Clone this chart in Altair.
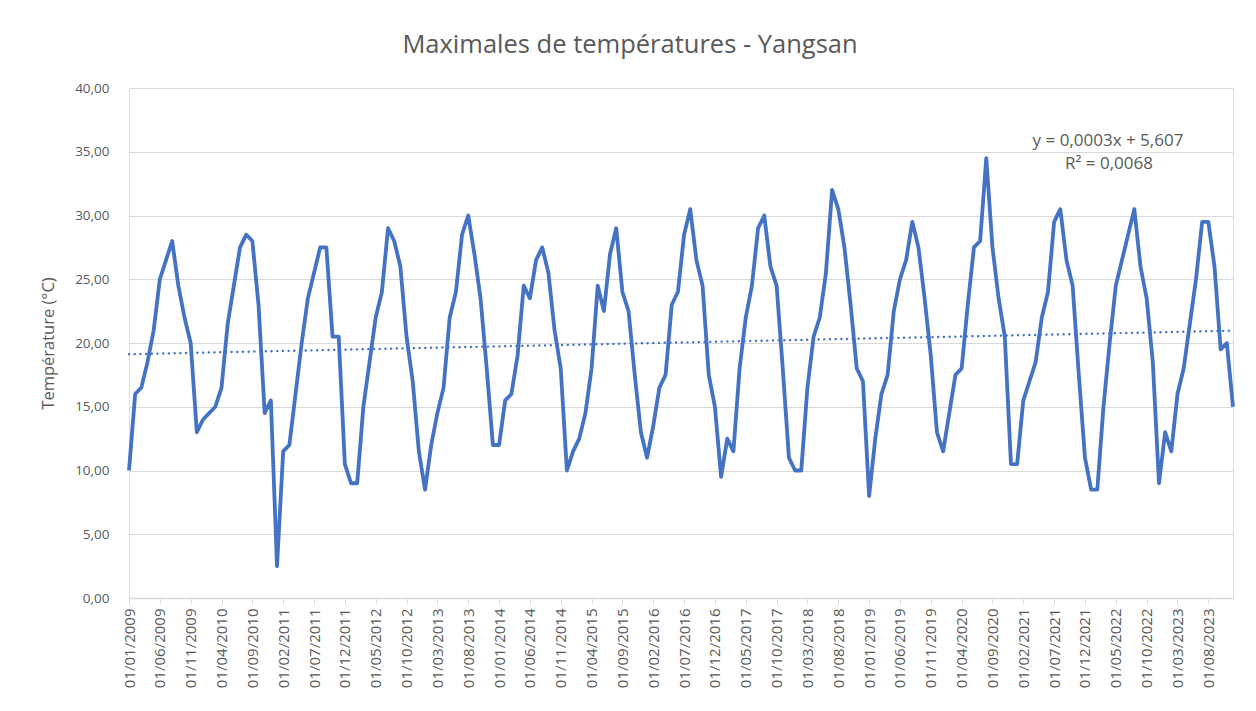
import altair as alt
import pandas as pd

# ---- data (monthly maxima, Jan 2009 .. Dec 2023) ----
months = pd.date_range("2009-01-01", periods=180, freq="MS")
labels = [d.strftime("01/%m/%Y") for d in months]
values = [
    10, 16, 16.5, 18.5, 21, 25, 26.5, 28, 24.5, 22, 20, 13,
    14, 14.5, 15, 16.5, 21.5, 24.5, 27.5, 28.5, 28, 23, 14.5, 15.5,
    2.5, 11.5, 12, 16, 20, 23.5, 25.5, 27.5, 27.5, 20.5, 20.5, 10.5,
    9, 9, 15, 18.5, 22, 24, 29, 28, 26, 20.5, 17, 11.5,
    8.5, 12, 14.5, 16.5, 22, 24, 28.5, 30, 27, 23.5, 18, 12,
    12, 15.5, 16, 19, 24.5, 23.5, 26.5, 27.5, 25.5, 21, 18, 10,
    11.5, 12.5, 14.5, 18, 24.5, 22.5, 27, 29, 24, 22.5, 17.5, 13,
    11, 13.5, 16.5, 17.5, 23, 24, 28.5, 30.5, 26.5, 24.5, 17.5, 15,
    9.5, 12.5, 11.5, 18, 22, 24.5, 29, 30, 26, 24.5, 18, 11,
    10, 10, 16.5, 20.5, 22, 25.5, 32, 30.5, 27.5, 23, 18, 17,
    8, 12.5, 16, 17.5, 22.5, 25, 26.5, 29.5, 27.5, 23.5, 19, 13,
    11.5, 14.5, 17.5, 18, 23, 27.5, 28, 34.5, 27.5, 23.5, 20.5, 10.5,
    10.5, 15.5, 17, 18.5, 22, 24, 29.5, 30.5, 26.5, 24.5, 17.5, 11,
    8.5, 8.5, 15, 20, 24.5, 26.5, 28.5, 30.5, 26, 23.5, 18.5, 9,
    13, 11.5, 16, 18, 21.5, 25, 29.5, 29.5, 26, 19.5, 20, 15,
]
idx = list(range(len(values)))
y_ticks = [0, 5, 10, 15, 20, 25, 30, 35, 40]
x_ticks = list(range(0, len(values), 5))
title_text = "Maximales de températures - Yangsan"
y_title = "Température (°C)"
eq_lines = ["y = 0,0003x + 5,607", "R² = 0,0068"]

df = pd.DataFrame({"idx": idx, "label": labels, "value": values})

FONT = "Open Sans"
GRAY = "#595959"
GRID = "#d9d9d9"
BLUE = "#4472C4"

label_array = "[" + ",".join("'" + l + "'" for l in labels) + "]"

x_enc = alt.X(
    "idx:Q",
    scale=alt.Scale(domain=[0, len(values) - 1], nice=False, zero=False),
    axis=alt.Axis(
        values=x_ticks,
        labelExpr=label_array + "[datum.value]",
        labelAngle=-90,
        labelAlign="right",
        labelBaseline="middle",
        labelFont=FONT,
        labelFontSize=15,
        labelColor=GRAY,
        labelPadding=4,
        labelOverlap=False,
        labelBound=False,
        labelFlush=False,
        grid=False,
        domainColor=GRID,
        domainWidth=1.5,
        tickColor=GRID,
        tickSize=6,
        title=None,
    ),
)
y_enc = alt.Y(
    "value:Q",
    scale=alt.Scale(domain=[0, 40], nice=False, zero=True),
    axis=alt.Axis(
        values=y_ticks,
        labelExpr="replace(format(datum.value, '.2f'), '.', ',')",
        labelFont=FONT,
        labelFontSize=13.5,
        labelColor=GRAY,
        labelPadding=20,
        grid=True,
        gridColor=GRID,
        gridWidth=1.2,
        domain=False,
        ticks=False,
        title=y_title,
        titleFont=FONT,
        titleFontSize=16.5,
        titleFontWeight="normal",
        titleColor=GRAY,
        titlePadding=18,
    ),
)

base = alt.Chart(df)

line = base.mark_line(color=BLUE, strokeWidth=3.8, strokeJoin="round").encode(
    x=x_enc, y=y_enc
)

trend = (
    base.transform_regression("idx", "value")
    .mark_line(color=BLUE, strokeWidth=2.4, strokeDash=[0.1, 5.6], strokeCap="round")
    .encode(x=x_enc, y=y_enc)
)

eq1 = alt.Chart(pd.DataFrame({"t": [eq_lines[0]]})).mark_text(
    font=FONT, fontSize=17, color=GRAY, align="center", baseline="middle"
).encode(text="t:N", x=alt.value(979), y=alt.value(53))
eq2 = alt.Chart(pd.DataFrame({"t": [eq_lines[1]]})).mark_text(
    font=FONT, fontSize=17, color=GRAY, align="center", baseline="middle"
).encode(text="t:N", x=alt.value(980), y=alt.value(76))

chart = (
    alt.layer(line, trend, eq1, eq2)
    .properties(
        width=1104,
        height=510,
        title=alt.TitleParams(
            title_text,
            font=FONT,
            fontSize=25.5,
            fontWeight="normal",
            color=GRAY,
            anchor="middle",
            dx=-51,
            offset=23,
        ),
        autosize=alt.AutoSizeParams(type="none"),
        padding={"left": 121, "top": 80, "right": 15, "bottom": 95},
    )
    .configure_view(stroke=None)
    .configure(background="white")
)

chart.save("out.html", embed_options={"renderer": "svg", "actions": False})
